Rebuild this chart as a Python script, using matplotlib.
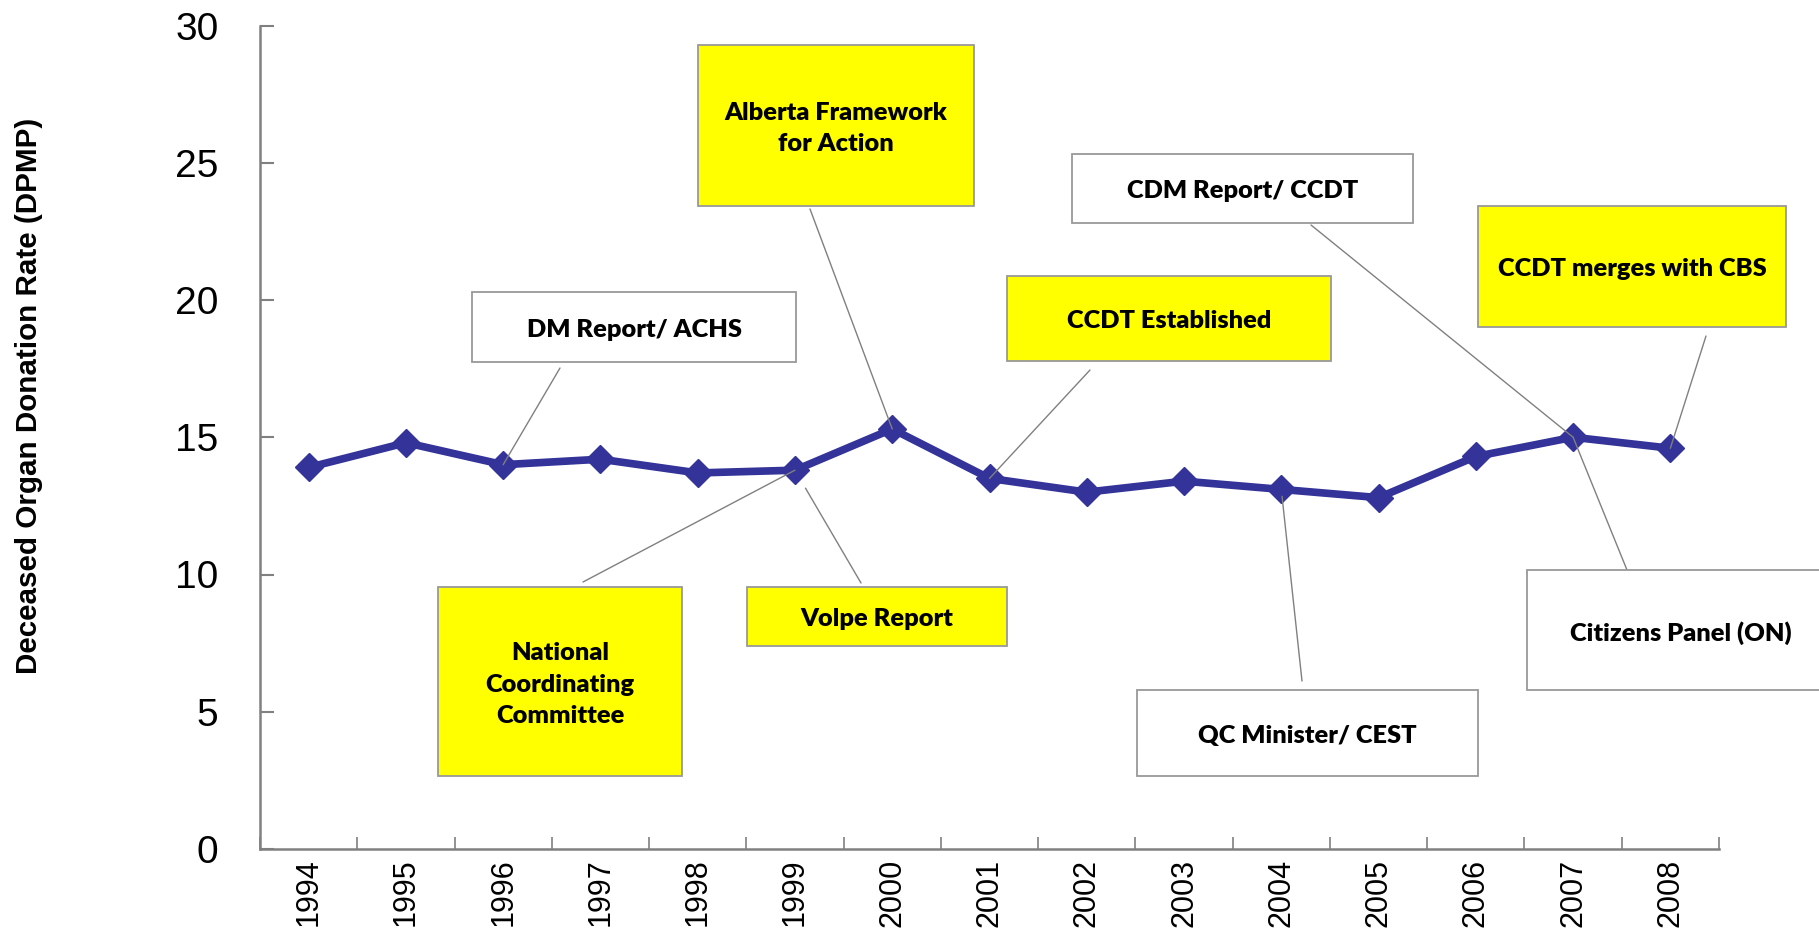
import matplotlib
matplotlib.use("Agg")
import matplotlib.pyplot as plt
from matplotlib.patches import Rectangle

# ---- data ----
years = ["1994", "1995", "1996", "1997", "1998", "1999", "2000", "2001",
         "2002", "2003", "2004", "2005", "2006", "2007", "2008"]
rates = [13.9, 14.8, 14.0, 14.2, 13.7, 13.8, 15.3, 13.5,
         13.0, 13.4, 13.1, 12.8, 14.3, 15.0, 14.6]
yticks = [0, 5, 10, 15, 20, 25, 30]

# annotation texts and which year they point to
event_labels = ["DM Report/ ACHS", "Alberta Framework\nfor Action", "CDM Report/ CCDT",
                "CCDT Established", "CCDT merges with CBS",
                "National\nCoordinating\nCommittee", "Volpe Report",
                "QC Minister/ CEST", "Citizens Panel (ON)"]
event_years = ["1996", "2000", "2007", "2001", "2008", "1999", "1999", "2004", "2007"]
event_fill = ["white", "#FFFF00", "white", "#FFFF00", "#FFFF00",
              "#FFFF00", "#FFFF00", "white", "white"]
# box extents in figure pixels (x0, y0_top, x1, y1_bottom)
event_boxes = [(472, 292, 796, 362), (698, 45, 974, 206), (1072, 154, 1413, 223),
               (1007, 276, 1331, 361), (1478, 206, 1786, 327),
               (438, 587, 682, 776), (747, 587, 1007, 646),
               (1137, 690, 1478, 776), (1527, 570, 1835, 690)]
# connector start points (figure pixels, from top) and shrink at data end (pt)
event_starts = [(560, 368), (810, 209), (1311, 225), (1090, 370), (1706, 336),
                (583, 582), (861, 583), (1302, 681), (1627, 570)]
event_shrink = [0, 0, 0, 0, 0, 0, 15, 5, 0]

W, H = 1819, 943
fig = plt.figure(figsize=(W / 100, H / 100), dpi=100)
ax = fig.add_axes([260 / W, 94 / H, (1719 - 260) / W, (849 - 25.5) / H])

x = list(range(len(years)))
ax.plot(x, rates, color="#333399", lw=5.5, marker="D", ms=14,
        markeredgecolor="#333399", zorder=3, clip_on=False)

ax.set_xlim(-0.5, len(years) - 0.5)
ax.set_ylim(0, 30)
ax.set_yticks(yticks)
ax.set_yticklabels([str(v) for v in yticks], fontsize=28, family="Liberation Sans")
ax.set_xticks(x)
ax.set_xticklabels(years, rotation=90, fontsize=22, family="Liberation Sans")
ax.set_xticks([i - 0.5 for i in range(len(years) + 1)], minor=True)
ax.tick_params(axis="x", which="major", length=0, pad=7)
ax.tick_params(axis="x", which="minor", direction="in", length=9, width=1.2, color="#808080")
ax.tick_params(axis="y", direction="in", length=10, width=1.5, color="#808080", pad=30)

for s in ["top", "right"]:
    ax.spines[s].set_visible(False)
for s in ["left", "bottom"]:
    ax.spines[s].set_color("#808080")
    ax.spines[s].set_linewidth(1.8)

ax.set_ylabel("Deceased Organ Donation Rate (DPMP)", fontsize=21.3, fontweight="bold",
              family="Liberation Sans")
ax.yaxis.set_label_coords(-0.149, 0.55)

for lab, yr, fill, box, st, shr in zip(event_labels, event_years, event_fill,
                                       event_boxes, event_starts, event_shrink):
    x0, y0, x1, y1 = box
    rect = Rectangle((x0 / W, 1 - y1 / H), (x1 - x0) / W, (y1 - y0) / H,
                     transform=fig.transFigure, facecolor=fill,
                     edgecolor="#999999", lw=1.3, zorder=5)
    fig.patches.append(rect)
    fig.text((x0 + x1) / 2 / W, 1 - ((y0 + y1) / 2 + 3) / H, lab, ha="center", va="center",
             fontsize=18.3, fontweight="heavy", family=["Lato", "DejaVu Sans"],
             linespacing=1.55, zorder=6)
    i = years.index(yr)
    ax.annotate("", xy=(i, rates[i]), xycoords="data",
                xytext=(st[0], H - st[1]), textcoords="figure pixels",
                arrowprops=dict(arrowstyle="-", color="#808080", lw=1.0,
                                shrinkA=0, shrinkB=shr),
                annotation_clip=False, zorder=4)

fig.savefig("out.png", dpi=100)
